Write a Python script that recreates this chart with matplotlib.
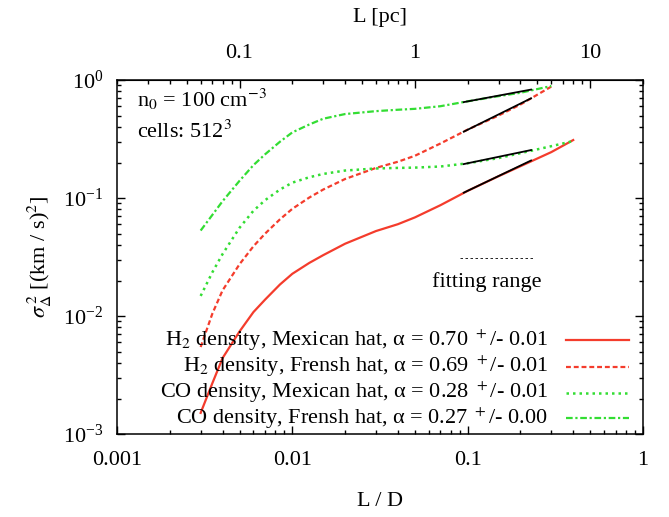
import numpy as np
import matplotlib
matplotlib.use("Agg")
import matplotlib.pyplot as plt
from matplotlib.ticker import LogLocator, FixedLocator, FixedFormatter, NullFormatter

#---------------------------------------------
# Data (L/D vs sigma^2)
#---------------------------------------------

ld_mex = [0.003, 0.0035, 0.004, 0.005, 0.006, 0.007, 0.0085, 0.01, 0.0125, 0.015,
          0.02, 0.03, 0.04, 0.05, 0.07, 0.1, 0.15, 0.2, 0.3, 0.4]
ld_fr = ld_mex[:-1]

h2_mex = [0.00151, 0.0027, 0.0044, 0.0074, 0.0108, 0.0138, 0.0185, 0.0228, 0.0282, 0.0328,
          0.041, 0.0525, 0.060, 0.0685, 0.087, 0.115, 0.153, 0.186, 0.245, 0.31]
h2_fr = [0.00546, 0.0105, 0.0165, 0.0275, 0.039, 0.050, 0.066, 0.081, 0.101, 0.118,
         0.145, 0.180, 0.203, 0.228, 0.29, 0.38, 0.50, 0.62, 0.88]
co_mex = [0.0148, 0.0235, 0.0335, 0.056, 0.078, 0.096, 0.118, 0.135, 0.150, 0.160,
          0.171, 0.178, 0.180, 0.181, 0.185, 0.197, 0.218, 0.240, 0.275, 0.304]
co_fr = [0.053, 0.072, 0.094, 0.14, 0.19, 0.235, 0.30, 0.36, 0.42, 0.47,
         0.515, 0.545, 0.56, 0.57, 0.60, 0.66, 0.73, 0.78, 0.89]

# fitted power laws, drawn over the fitting range
fit_x = [0.095, 0.23]
fit_h2_mex = [0.111, 0.208]
fit_h2_fr = [0.365, 0.70]
fit_co_mex = [0.194, 0.255]
fit_co_fr = [0.65, 0.83]

labels = [
    r"H$_2$ density, Mexican hat, α = 0.70 $^+$/- 0.01",
    r"H$_2$ density, Frensh hat, α = 0.69 $^+$/- 0.01",
    r"CO density, Mexican hat, α = 0.28 $^+$/- 0.01",
    r"CO density, Frensh hat, α = 0.27 $^+$/- 0.00",
]

D_pc = 20.0  # box size in pc for the top axis

#---------------------------------------------
# Style
#---------------------------------------------

plt.rcParams['font.family'] = ['Liberation Serif', 'DejaVu Serif']
plt.rcParams['mathtext.fontset'] = 'stix'
plt.rcParams['font.size'] = 16

red = '#f43c2c'
green = '#33dd33'
styles = [
    dict(color=red, lw=1.6, ls='-'),
    dict(color=red, lw=1.6, ls=(0, (2.2, 1.3))),
    dict(color=green, lw=1.8, ls=(0, (1, 1.6))),
    dict(color=green, lw=1.6, ls=(0, (3, 1.2, 1, 1.2))),
]

fig = plt.figure(figsize=(6.69, 5.17), dpi=100)
ax = fig.add_axes([0.1749, 0.1605, 0.7862, 0.6847])

series = [(ld_mex, h2_mex), (ld_fr, h2_fr), (ld_mex, co_mex), (ld_fr, co_fr)]
for (x, y), st in zip(series, styles):
    ax.plot(x, y, **st)

for fy in [fit_h2_mex, fit_h2_fr, fit_co_mex, fit_co_fr]:
    ax.plot(fit_x, fy, color='black', lw=1.3)

ax.set_xscale('log')
ax.set_yscale('log')
ax.set_xlim(0.001, 1)
ax.set_ylim(1e-3, 1)

ax.xaxis.set_major_locator(FixedLocator([0.001, 0.01, 0.1, 1]))
ax.xaxis.set_major_formatter(FixedFormatter(['0.001', '0.01', '0.1', '1']))
ax.xaxis.set_minor_locator(LogLocator(base=10, subs=np.arange(2, 10)))
ax.xaxis.set_minor_formatter(NullFormatter())
ax.yaxis.set_minor_locator(LogLocator(base=10, subs=np.arange(2, 10)))
ax.yaxis.set_minor_formatter(NullFormatter())

ax.tick_params(which='both', direction='in', top=False, right=True, labelsize=16)
ax.tick_params(which='major', length=6, width=1)
ax.tick_params(which='minor', length=3, width=1)
ax.tick_params(axis='x', pad=12)
ax.tick_params(axis='y', pad=10)
for sp in ax.spines.values():
    sp.set_linewidth(1.1)

ax.set_xlabel("L / D", fontsize=16, labelpad=16)
ax.set_ylabel(r"$\sigma_\Delta^{\,2}$ [(km / s)$^2$]", fontsize=16, labelpad=6)

# top axis in parsec
top = ax.secondary_xaxis('top', functions=(lambda v: v * D_pc, lambda v: v / D_pc))
top.xaxis.set_major_locator(FixedLocator([0.1, 1, 10]))
top.xaxis.set_major_formatter(FixedFormatter(['0.1', '1', '10']))
top.xaxis.set_minor_locator(LogLocator(base=10, subs=np.arange(2, 10)))
top.xaxis.set_minor_formatter(NullFormatter())
top.tick_params(which='both', direction='in', labelsize=16, pad=12)
top.tick_params(which='major', length=6, width=1)
top.tick_params(which='minor', length=3, width=1)
top.set_xlabel("L [pc]", fontsize=16, labelpad=16)

# annotations
ax.text(0.038, 0.944, r"n$_0$ = 100 cm$^{-3}$", transform=ax.transAxes, va='center', ha='left', fontsize=16)
ax.text(0.038, 0.853, r"cells: 512$^3$", transform=ax.transAxes, va='center', ha='left', fontsize=16)

# fitting range key
ax.plot([0.652, 0.791], [0.497, 0.497], transform=ax.transAxes, color='black', lw=0.6, ls=(0, (3, 3)))
ax.text(0.703, 0.43, "fitting range", transform=ax.transAxes, ha='center', va='center', fontsize=16)

# legend, text right aligned with sample on the right
row_y = [0.265, 0.19, 0.117, 0.045]
for lab, st, yy in zip(labels, styles, row_y):
    ax.text(0.82, yy, lab, transform=ax.transAxes, ha='right', va='center', fontsize=16)
    ax.plot([0.853, 0.973], [yy, yy], transform=ax.transAxes, **st)

fig.savefig("out.png", dpi=100)
